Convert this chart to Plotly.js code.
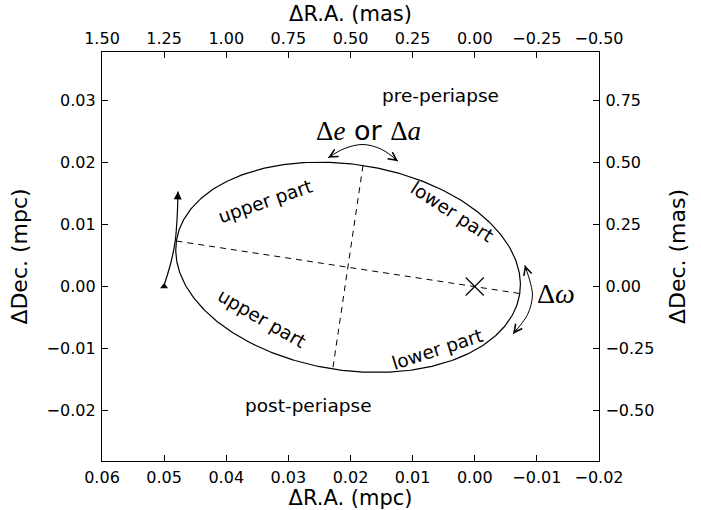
<!DOCTYPE html>
<html><head><meta charset="utf-8">
<script src="https://cdn.plot.ly/plotly-3.0.1.min.js"></script>
<style>html,body{margin:0;padding:0;background:#fff}</style>
</head><body><div id="chart" style="width:701px;height:510px"></div>
<script>
// ---- axes (mpc); secondary axes in mas = 25 x mpc ----
const masPerMpc = 25;
const xRangeMpc = [0.06, -0.02];
const yRangeMpc = [-0.0282, 0.0379];
const xTicksMpc = [0.06, 0.05, 0.04, 0.03, 0.02, 0.01, 0.00, -0.01, -0.02];
const yTicksMpc = [-0.02, -0.01, 0.00, 0.01, 0.02, 0.03];
const xTicksMas = [1.50, 1.25, 1.00, 0.75, 0.50, 0.25, 0.00, -0.25, -0.50];
const yTicksMas = [-0.50, -0.25, 0.00, 0.25, 0.50, 0.75];

// ---- orbit geometry (mpc) ----
const periapse = [-0.00724, -0.00113];
const apoapse = [0.04802, 0.00735];
const minorTop = [0.01799, 0.01956];
const minorBottom = [0.02286, -0.01334];
const focusPoint = [0.0, 0.0];
const startMarker = [0.050, 0.000];

// ---- curved arrows (mpc) ----
const arcDeX = [0.02362, 0.02093, 0.01798, 0.01497, 0.01235];
const arcDeY = [0.02081, 0.02231, 0.02295, 0.02215, 0.02026];
const arcDwX = [-0.00806, -0.00901, -0.00928, -0.00853, -0.00616];
const arcDwY = [0.00344, 0.00037, -0.00156, -0.00447, -0.00769];
const arcLeftX = [0.05007, 0.04894, 0.04822, 0.04789, 0.04777];
const arcLeftY = [0.00000, 0.00376, 0.00731, 0.01150, 0.01537];

// ---- text labels ----
const labelText = ['pre-periapse', 'post-periapse', 'upper part', 'lower part', 'upper part', 'lower part'];
const labelX = [0.00546, 0.02673, 0.03381, 0.0037, 0.03425, 0.00612];
const labelY = [0.03085, -0.01929, 0.01381, 0.01215, -0.00511, -0.0101];
const labelAngle = [0, 0, -19, 33, 30, -18];

// ---- build the projected ellipse from its conjugate semi-diameters ----
const center = [(periapse[0] + apoapse[0]) / 2, (periapse[1] + apoapse[1]) / 2];
const uVec = [periapse[0] - center[0], periapse[1] - center[1]];
const vVec = [minorTop[0] - center[0], minorTop[1] - center[1]];
const ellX = [], ellY = [];
const N = 360;
for (let i = 0; i <= N; i++) {
  const t = 2 * Math.PI * i / N;
  ellX.push(center[0] + uVec[0] * Math.cos(t) + vVec[0] * Math.sin(t));
  ellY.push(center[1] + uVec[1] * Math.cos(t) + vVec[1] * Math.sin(t));
}

const FONT = 'DejaVu Sans, sans-serif';
const black = '#000';

const traces = [
  {x: ellX, y: ellY, mode: 'lines', line: {color: black, width: 1.2}},
  {x: [apoapse[0], periapse[0]], y: [apoapse[1], periapse[1]], mode: 'lines',
   line: {color: black, width: 1, dash: '6px,5px'}},
  {x: [minorTop[0], minorBottom[0]], y: [minorTop[1], minorBottom[1]], mode: 'lines',
   line: {color: black, width: 1, dash: '6px,5px'}},
  {x: arcDeX, y: arcDeY, mode: 'lines', line: {color: black, width: 1, shape: 'spline'}},
  {x: arcDwX, y: arcDwY, mode: 'lines', line: {color: black, width: 1, shape: 'spline'}},
  {x: arcLeftX, y: arcLeftY, mode: 'lines', line: {color: black, width: 1.2, shape: 'spline'}},
  {x: [startMarker[0]], y: [startMarker[1]], mode: 'markers',
   marker: {symbol: 'triangle-up', size: 7, color: black}},
  {x: [focusPoint[0]], y: [focusPoint[1]], mode: 'markers',
   marker: {symbol: 'x-thin-open', size: 18, color: black, line: {color: black, width: 1.2}}},
  {x: [null], y: [null], xaxis: 'x2', yaxis: 'y2', mode: 'markers', hoverinfo: 'skip'}
];
traces.forEach(t => { t.showlegend = false; if (!t.hoverinfo) t.hoverinfo = 'skip'; });

function headAnn(xs, ys, endIdx, prevIdx, head, size) {
  const f = 0.35;
  return {
    x: xs[endIdx], y: ys[endIdx], xref: 'x', yref: 'y',
    ax: xs[endIdx] + (xs[prevIdx] - xs[endIdx]) * f,
    ay: ys[endIdx] + (ys[prevIdx] - ys[endIdx]) * f,
    axref: 'x', ayref: 'y', text: '', showarrow: true,
    arrowhead: head, arrowsize: size, arrowwidth: 1, arrowcolor: black, standoff: 0
  };
}

const annotations = [
  headAnn(arcDeX, arcDeY, 0, 1, 5, 1.6),
  headAnn(arcDeX, arcDeY, 4, 3, 5, 1.6),
  headAnn(arcDwX, arcDwY, 0, 1, 5, 1.6),
  headAnn(arcDwX, arcDwY, 4, 3, 5, 1.6),
  headAnn(arcLeftX, arcLeftY, 4, 3, 2, 1.6)
];
labelText.forEach((t, i) => annotations.push({
  x: labelX[i], y: labelY[i], xref: 'x', yref: 'y', text: t, showarrow: false,
  textangle: labelAngle[i], font: {family: FONT, size: 18.5, color: black}
}));
annotations.push({
  x: 0.01708, y: 0.02521, xref: 'x', yref: 'y', showarrow: false,
  text: '<span style="font-family:Liberation Serif">Δ<i>e</i></span> or <span style="font-family:Liberation Serif">Δ<i>a</i></span>',
  font: {family: FONT, size: 27, color: black}
});
annotations.push({
  x: -0.01305, y: -0.00108, xref: 'x', yref: 'y', showarrow: false,
  text: '<span style="font-family:Liberation Serif">Δ<i>ω</i></span>',
  font: {family: FONT, size: 28, color: black}
});

const axBase = {
  showgrid: false, zeroline: false, showline: true, linecolor: black, linewidth: 1.2,
  ticks: 'inside', ticklen: 6, tickwidth: 1, tickcolor: black, tickformat: '.2f',
  tickfont: {family: FONT, size: 16, color: black}, automargin: false
};

const layout = {
  width: 701, height: 510,
  margin: {l: 102, r: 102, t: 52, b: 49},
  paper_bgcolor: '#fff', plot_bgcolor: '#fff',
  font: {family: FONT, color: black},
  showlegend: false,
  xaxis: Object.assign({}, axBase, {
    range: xRangeMpc, tickvals: xTicksMpc, anchor: 'y', ticklabelstandoff: 2, mirror: 'ticks',
    title: {text: 'ΔR.A. (mpc)', font: {family: FONT, size: 21}, standoff: 7}
  }),
  yaxis: Object.assign({}, axBase, {
    range: yRangeMpc, tickvals: yTicksMpc, anchor: 'x', ticklabelstandoff: 2,
    title: {text: 'ΔDec. (mpc)', font: {family: FONT, size: 22}, standoff: 12}
  }),
  xaxis2: Object.assign({}, axBase, {
    range: xRangeMpc.map(v => v * masPerMpc), tickvals: xTicksMas,
    overlaying: 'x', side: 'top', anchor: 'free', position: 1,
    showline: false, ticks: '', ticklabelstandoff: 5,
    title: {text: 'ΔR.A. (mas)', font: {family: FONT, size: 21}, standoff: 0}
  }),
  yaxis2: Object.assign({}, axBase, {
    range: yRangeMpc.map(v => v * masPerMpc), tickvals: yTicksMas,
    overlaying: 'y', side: 'right', anchor: 'x2', ticklabelstandoff: 2,
    title: {text: 'ΔDec. (mas)', font: {family: FONT, size: 22}, standoff: 16}
  }),
  annotations: annotations
};

Plotly.newPlot('chart', traces, layout, {staticPlot: true, displayModeBar: false});
</script></body></html>
